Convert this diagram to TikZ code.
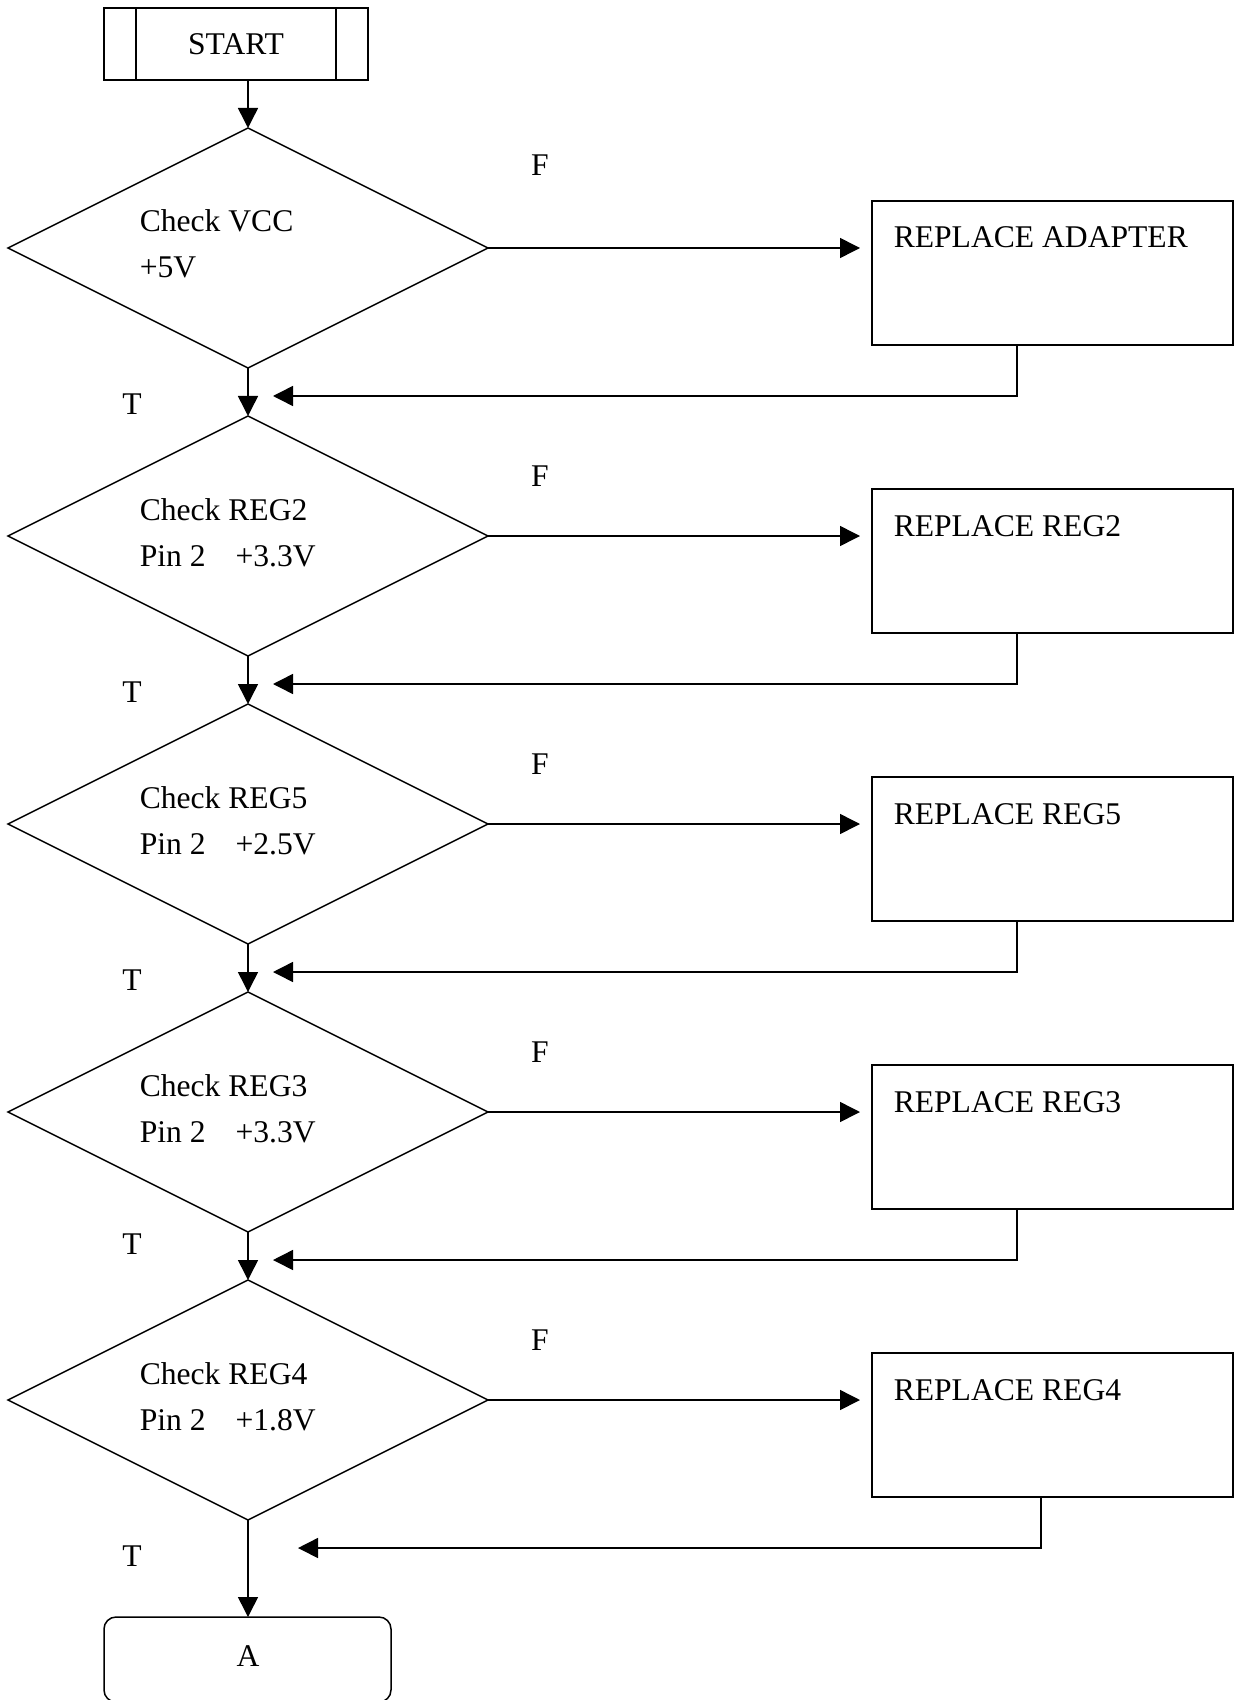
\documentclass[tikz,border=0pt]{standalone}
\usepackage{fontspec}
\setmainfont{Liberation Serif}
\usetikzlibrary{shapes.geometric,arrows.meta}
\begin{document}
\begin{tikzpicture}[x=0.5pt,y=-0.5pt,
  line width=0.75pt,
  every node/.style={font=\fontsize{15.8}{19}\selectfont},
  dec/.style={draw,shape=diamond,minimum width=240pt,minimum height=120pt,inner sep=0pt,outer sep=0pt},
  repbox/.style={draw,rectangle,minimum width=180.5pt,minimum height=72pt,inner sep=0pt,outer sep=0pt},
  txt/.style={anchor=base west,inner sep=0pt},
  lbl/.style={inner sep=0pt},
  arr/.style={-{Triangle[length=10pt,width=10pt]}}
]
\useasboundingbox (0,0) rectangle (1237,1700);

% START
\node[draw,rectangle,minimum width=132pt,minimum height=36pt,inner sep=0pt,outer sep=0pt] (start) at (236,44) {START};
\draw ([xshift=16pt]start.north west) -- ([xshift=16pt]start.south west);
\draw ([xshift=-16pt]start.north east) -- ([xshift=-16pt]start.south east);

\foreach \i/\c/\la/\lb/\rt/\fy/\ty/\dx/\tx in {
  1/248/Check VCC/+5V/REPLACE ADAPTER/165/404/1017/273,
  2/536/Check REG2/Pin 2\hspace{15pt}+3.3V/REPLACE REG2/476/692/1017/273,
  3/824/Check REG5/Pin 2\hspace{15pt}+2.5V/REPLACE REG5/764/980/1017/273,
  4/1112/Check REG3/Pin 2\hspace{15pt}+3.3V/REPLACE REG3/1052/1244/1017/273,
  5/1400/Check REG4/Pin 2\hspace{15pt}+1.8V/REPLACE REG4/1340/1556/1041/298}{
  \node[dec] (d\i) at (248,\c) {};
  \node[txt] (ta\i) at (139,\c-16) {\la};
  \node[txt] (tb\i) at (139,\c+30) {\lb};
  \node[repbox] (r\i) at (1052.5,\c+25) {};
  \node[txt] (rt\i) at (893,\c) {\rt};
  \node[lbl] (F\i) at (540,\fy) {F};
  \node[lbl] (T\i) at (132,\ty) {T};
  \coordinate (f\i) at (\tx,\c+148);
  \draw[arr,shorten >=6pt] (d\i.east) -- (d\i.east -| r\i.west);
  \draw[arr] ([xshift={(\dx-872)*0.5pt}]r\i.south west) |- (f\i);
}

% A terminator
\node[draw,rectangle,rounded corners=6pt,minimum width=143.5pt,minimum height=42.5pt,inner sep=0pt,outer sep=0pt] (A) at (247.5,1659.5) {};
\node[lbl] (At) at (248,1656) {A};

% main flow
\draw[arr] (start.south -| d1.north) -- (d1.north);
\draw[arr] (d1.south) -- (d2.north);
\draw[arr] (d2.south) -- (d3.north);
\draw[arr] (d3.south) -- (d4.north);
\draw[arr] (d4.south) -- (d5.north);
\draw[arr] (d5.south) -- (d5.south |- A.north);
\end{tikzpicture}
\end{document}
